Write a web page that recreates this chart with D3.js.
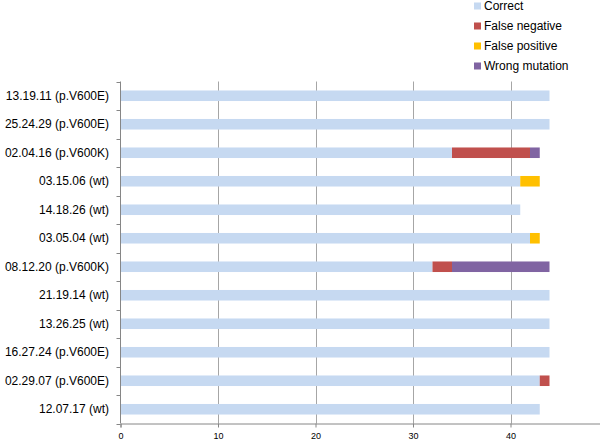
<!DOCTYPE html>
<html>
<head>
<meta charset="utf-8">
<script src="https://cdn.jsdelivr.net/npm/d3@7"></script>
<style>
html,body{margin:0;padding:0;background:#fff;}
svg{display:block;}
</style>
</head>
<body>
<svg id="chart" width="600" height="442"></svg>
<script>
const categories = ["13.19.11 (p.V600E)","25.24.29 (p.V600E)","02.04.16 (p.V600K)","03.15.06 (wt)","14.18.26 (wt)","03.05.04 (wt)","08.12.20 (p.V600K)","21.19.14 (wt)","13.26.25 (wt)","16.27.24 (p.V600E)","02.29.07 (p.V600E)","12.07.17 (wt)"];
const correct       = [44,44,34,41,41,42,32,44,44,44,43,43];
const falseNegative = [0,0,8,0,0,0,2,0,0,0,1,0];
const falsePositive = [0,0,0,2,0,1,0,0,0,0,0,0];
const wrongMutation = [0,0,1,0,0,0,10,0,0,0,0,0];
const seriesNames = ["Correct","False negative","False positive","Wrong mutation"];
const seriesColors = ["#c6d9f1","#c0504d","#ffc000","#8064a2"];
const xTicks = [0,10,20,30,40];

const svg = d3.select("#chart");
const font = "'Liberation Sans', Arial, sans-serif";
const plotLeft = 120.5, plotTop = 81.5, plotBottom = 423.5;

const x = d3.scaleLinear().domain([0,50]).range([plotLeft, plotLeft + 487.5]);
const y = d3.scaleBand().domain(categories).range([plotTop, plotBottom]).paddingInner(0.63).paddingOuter(0.315);
const yb = d3.scaleBand().domain(categories).range([plotTop, plotBottom]);

// gridlines
svg.append("g").selectAll("line").data(xTicks.filter(d => d > 0)).join("line")
  .attr("x1", d => Math.round(x(d)) + 0.5).attr("x2", d => Math.round(x(d)) + 0.5)
  .attr("y1", plotTop).attr("y2", plotBottom)
  .attr("stroke", "#a6a6a6").attr("stroke-width", 1);

// stacked data
const table = categories.map((c, i) => ({cat: c, "Correct": correct[i], "False negative": falseNegative[i], "False positive": falsePositive[i], "Wrong mutation": wrongMutation[i]}));
const stack = d3.stack().keys(seriesNames)(table);
const color = d3.scaleOrdinal().domain(seriesNames).range(seriesColors);

svg.append("g").selectAll("g").data(stack).join("g")
  .attr("fill", d => color(d.key))
  .selectAll("rect").data(d => d).join("rect")
  .attr("x", d => x(d[0]))
  .attr("y", d => y(d.data.cat))
  .attr("width", d => x(d[1]) - x(d[0]))
  .attr("height", y.bandwidth());

// y axis
const yAxisG = svg.append("g");
yAxisG.append("line").attr("x1", plotLeft).attr("x2", plotLeft).attr("y1", plotTop).attr("y2", plotBottom).attr("stroke", "#868686");
const bounds = categories.map(c => yb(c)).concat([plotBottom]);
yAxisG.selectAll("line.t").data(bounds).join("line").attr("class","t")
  .attr("x1", plotLeft - 4).attr("x2", plotLeft).attr("y1", d => Math.round(d)+0.5).attr("y2", d => Math.round(d)+0.5)
  .attr("stroke", "#868686");
yAxisG.selectAll("text").data(categories).join("text")
  .attr("x", 109).attr("y", d => yb(d) + yb.bandwidth()/2)
  .attr("dy", "0.35em").attr("text-anchor", "end")
  .attr("font-family", font).attr("font-size", 12).attr("fill", "#000")
  .text(d => d);

// x axis
const xAxis = d3.axisBottom(x).tickValues(xTicks).tickSize(4).tickFormat(d3.format("d"));
const xg = svg.append("g").attr("transform", `translate(0,${plotBottom})`).call(xAxis);
xg.select(".domain").attr("stroke", "#868686");
xg.selectAll(".tick line").attr("stroke", "#868686");
xg.selectAll(".tick text").attr("font-family", font).attr("font-size", 9).attr("fill", "#000").attr("dy", "0.9em");

// legend
const lg = svg.append("g");
seriesNames.forEach((n, i) => {
  const yy = 6 + i * 20;
  lg.append("rect").attr("x", 474).attr("y", yy - 3.5).attr("width", 7).attr("height", 7).attr("fill", seriesColors[i]);
  lg.append("text").attr("x", 484).attr("y", yy).attr("dy", "0.35em")
    .attr("font-family", font).attr("font-size", 12).attr("fill", "#000").text(n);
});
</script>
</body>
</html>
